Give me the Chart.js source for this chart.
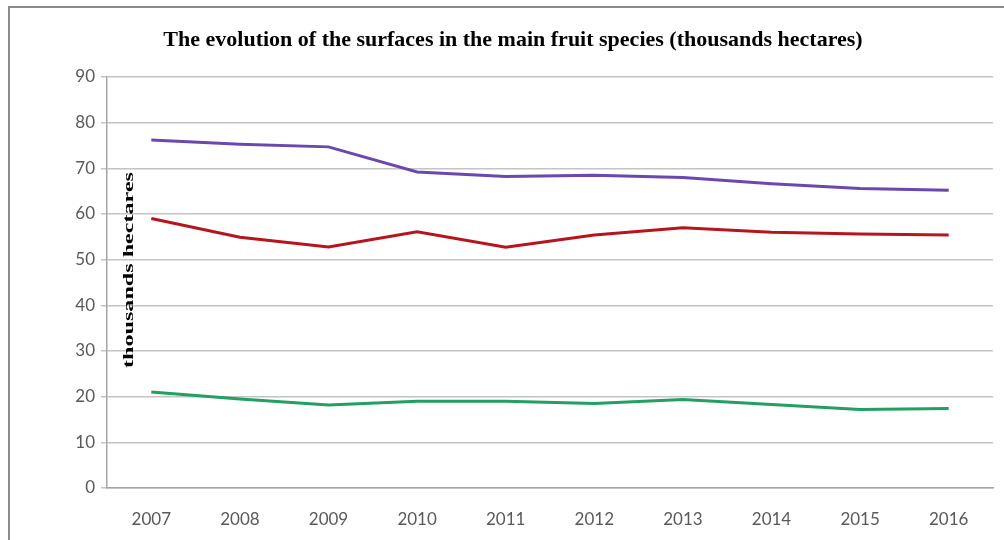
<!DOCTYPE html>
<html>
<head>
<meta charset="utf-8">
<script src="https://cdn.jsdelivr.net/npm/chart.js@4.4.1/dist/chart.umd.min.js"></script>
<style>
  html, body { margin: 0; padding: 0; background: #ffffff; }
  #wrap { position: relative; width: 1004px; height: 540px; overflow: hidden; }
  #frame { position: absolute; left: 8px; top: 6px; width: 1100px; height: 600px;
           border-left: 2px solid #8a8a8a; border-top: 2px solid #8a8a8a; pointer-events: none; }
  canvas { position: absolute; left: 0; top: 0; }
</style>
</head>
<body>
<div id="wrap">
  <canvas id="c" width="1004" height="540"></canvas>
  <div id="frame"></div>
</div>
<script>
const chartTitle = 'The evolution of the surfaces in the main fruit species (thousands hectares)';
const yAxisTitle = 'thousands hectares';
const years = ['2007','2008','2009','2010','2011','2012','2013','2014','2015','2016'];
const purpleSeries = [76.2, 75.3, 74.7, 69.2, 68.2, 68.5, 68.0, 66.6, 65.6, 65.2];
const redSeries    = [59.0, 54.9, 52.8, 56.1, 52.7, 55.4, 57.0, 56.0, 55.6, 55.4];
const greenSeries  = [21.0, 19.5, 18.2, 19.0, 19.0, 18.5, 19.4, 18.3, 17.2, 17.4];
const yTicks = { min: 0, max: 90, step: 10 };

const yTitlePlugin = {
  id: 'yTitleInside',
  afterDatasetsDraw(chart) {
    const ctx = chart.ctx;
    const a = chart.chartArea;
    ctx.save();
    ctx.font = 'bold 15px "Liberation Serif"';
    ctx.fillStyle = '#000000';
    ctx.textAlign = 'center';
    ctx.textBaseline = 'middle';
    const w = ctx.measureText(yAxisTitle).width;
    const target = 196;
    ctx.translate(a.left + 22, a.top + 193);
    ctx.rotate(-Math.PI / 2);
    ctx.scale(target / w, 1);
    ctx.fillText(yAxisTitle, 0, 0);
    ctx.restore();
  }
};

new Chart(document.getElementById('c'), {
  type: 'line',
  data: {
    labels: years,
    datasets: [
      { label: 'Series 1', data: purpleSeries, borderColor: '#6a48b0', borderWidth: 3, pointRadius: 0, tension: 0, fill: false },
      { label: 'Series 2', data: redSeries, borderColor: '#b8141e', borderWidth: 3, pointRadius: 0, tension: 0, fill: false },
      { label: 'Series 3', data: greenSeries, borderColor: '#22a062', borderWidth: 3, pointRadius: 0, tension: 0, fill: false }
    ]
  },
  options: {
    responsive: false,
    animation: false,
    layout: { padding: { left: 33, right: 11, top: 0, bottom: 0 } },
    plugins: {
      legend: { display: false },
      tooltip: { enabled: false },
      title: {
        display: true,
        text: chartTitle,
        color: '#000000',
        font: { family: '"Liberation Serif"', size: 22, weight: 'bold' },
        padding: { top: 27, bottom: 23.6 }
      }
    },
    scales: {
      x: {
        offset: true,
        afterFit(s) { s.height = 52; },
        grid: { display: false, drawTicks: false },
        border: { display: true, color: '#a6a6a6', width: 1.5 },
        ticks: { color: '#595959', font: { family: 'Lato', size: 17 }, padding: 21, maxRotation: 0 }
      },
      y: {
        min: yTicks.min, max: yTicks.max,
        afterFit(s) { s.width = 74; },
        grid: { color: '#c4c4c4', lineWidth: 1.5, drawTicks: true, tickLength: 6 },
        border: { display: true, color: '#a6a6a6', width: 1.5 },
        ticks: { stepSize: yTicks.step, color: '#595959', font: { family: 'Lato', size: 17 }, padding: 6 }
      }
    }
  },
  plugins: [yTitlePlugin]
});
</script>
</body>
</html>
